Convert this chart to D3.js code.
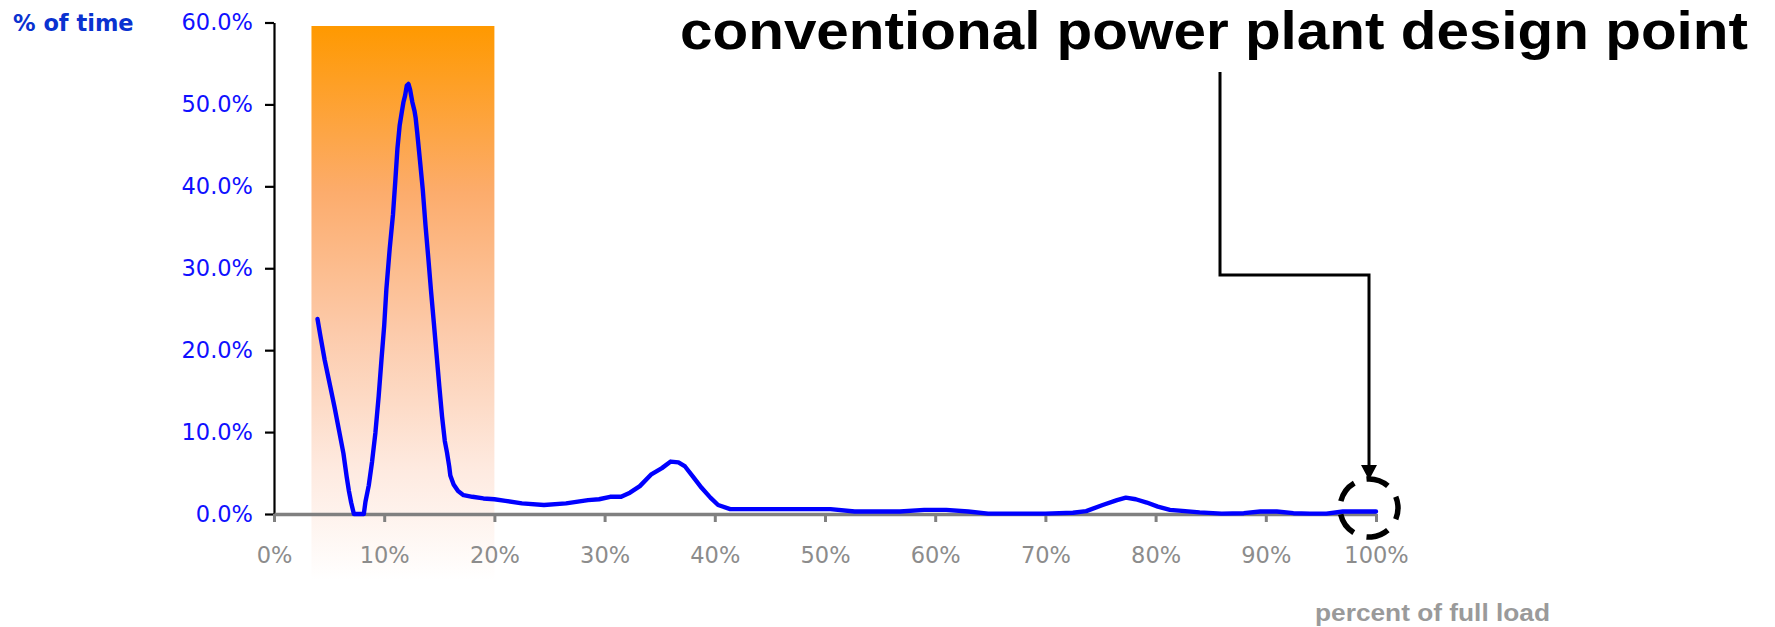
<!DOCTYPE html>
<html>
<head>
<meta charset="utf-8">
<script src="https://cdn.jsdelivr.net/npm/d3@7"></script>
<style>
  html, body { margin: 0; padding: 0; background: #fff; }
  svg { display: block; }
</style>
</head>
<body>
<svg id="chart" width="1775" height="627"></svg>
<script>
// Load level (% of full load) and share of operating time (%)
const loadPct = [
  3.95, 4.2, 4.6, 5.1, 5.5, 5.9, 6.3, 6.6, 6.8, 7.0,
  7.25, 7.7, 8.15, 8.3, 8.6, 8.9, 9.2, 9.5, 9.75, 10.0,
  10.2, 10.5, 10.8, 11.0, 11.2, 11.4, 11.6, 11.75, 11.9, 12.05,
  12.2, 12.35, 12.55, 12.75, 12.85, 13.0, 13.25, 13.5, 13.75, 14.0,
  14.25, 14.5, 14.75, 15.0, 15.25, 15.5, 15.7, 15.9, 16.0, 16.3,
  16.7, 17.2, 18.0, 19.0, 20.0, 21.0, 22.5, 24.5, 26.5, 28.5,
  29.5, 30.5, 31.5, 32.3, 33.2, 34.2, 35.2, 36.0, 36.7, 37.3,
  38.0, 38.8, 39.6, 40.3, 41.4, 43.0, 46.0, 50.5, 52.7, 56.8,
  59.0, 61.0, 63.0, 64.8, 70.0, 72.5, 73.7, 75.2, 76.5, 77.3,
  78.2, 79.2, 80.2, 81.3, 84.0, 86.0, 88.0, 89.5, 91.0, 92.5,
  94.0, 95.5, 97.0, 100
];
const timePct = [
  23.8, 21.8, 18.8, 15.6, 13.0, 10.2, 7.4, 4.5, 2.8, 1.4,
  0, 0, 0, 1.5, 3.5, 6.4, 9.9, 14.4, 18.8, 23.0,
  27.5, 32.4, 36.6, 40.5, 44.6, 47.4, 49.1, 50.3, 51.1, 52.3,
  52.5, 51.8, 50.3, 49.2, 48.4, 46.5, 43.1, 39.6, 35.2, 31.3,
  27.2, 23.4, 19.5, 15.6, 11.9, 8.9, 7.5, 5.8, 4.7, 3.6,
  2.8, 2.3, 2.1, 1.9, 1.8, 1.6, 1.3, 1.1, 1.3, 1.7,
  1.8, 2.1, 2.1, 2.6, 3.4, 4.8, 5.6, 6.4, 6.3, 5.8,
  4.6, 3.2, 2.0, 1.1, 0.6, 0.6, 0.6, 0.6, 0.3, 0.3,
  0.5, 0.5, 0.3, 0.05, 0.05, 0.15, 0.35, 1.1, 1.7, 2.0,
  1.8, 1.4, 0.9, 0.5, 0.2, 0.05, 0.1, 0.3, 0.3, 0.1,
  0.05, 0.05, 0.3, 0.3
];
const xTicks = [0, 10, 20, 30, 40, 50, 60, 70, 80, 90, 100];
const yTicks = [0, 10, 20, 30, 40, 50, 60];

// Highlighted low-load operating band
const bandFrom = 3.4, bandTo = 20;
// Design point of a conventional plant
const designLoad = 100, designTime = 0;

const svg = d3.select("#chart");
const x = d3.scaleLinear().domain([0, 100]).range([274, 1376]);
const y = d3.scaleLinear().domain([0, 60]).range([514, 22.5]);

// gradient for the low-load band
const defs = svg.append("defs");
const grad = defs.append("linearGradient")
  .attr("id", "bandGrad").attr("x1", 0).attr("y1", 0).attr("x2", 0).attr("y2", 1);
[[0, "#FF9900"], [0.3, "#FCAC6C"], [0.55, "#FCCAAA"], [0.8, "#FEEAE0"], [1, "#FFFFFF"]]
  .forEach(([o, c]) => grad.append("stop").attr("offset", o).attr("stop-color", c));

svg.append("rect")
  .attr("x", x(bandFrom)).attr("y", 26)
  .attr("width", x(bandTo) - x(bandFrom)).attr("height", 580 - 26)
  .attr("fill", "url(#bandGrad)");

const tickFont = "'DejaVu Sans', Verdana, sans-serif";

// y axis
const yAxis = svg.append("g")
  .attr("transform", `translate(${x(0)},0)`)
  .call(d3.axisLeft(y).tickValues(yTicks).tickSize(9).tickSizeOuter(0).tickPadding(12)
    .tickFormat(d => d3.format(".1f")(d) + "%"));
yAxis.select(".domain").attr("stroke", "#000").attr("stroke-width", 2.2);
yAxis.selectAll(".tick line").attr("stroke", "#000").attr("stroke-width", 2.2);
yAxis.selectAll(".tick text")
  .attr("fill", "#1010FF")
  .style("font-family", tickFont)
  .style("font-size", "22.5px");

// x axis
const xAxis = svg.append("g")
  .attr("transform", `translate(0,${y(0)})`)
  .call(d3.axisBottom(x).tickValues(xTicks).tickSize(8).tickSizeOuter(0).tickPadding(25)
    .tickFormat(d => d + "%"));
xAxis.select(".domain").attr("stroke", "#808080").attr("stroke-width", 3.5);
xAxis.selectAll(".tick line").attr("stroke", "#808080").attr("stroke-width", 3);
xAxis.selectAll(".tick text")
  .attr("fill", "#8C8C8C")
  .style("font-family", tickFont)
  .style("font-size", "22.5px");

// distribution curve
const pts = loadPct.map((v, i) => [v, timePct[i]]);
svg.append("path")
  .datum(pts)
  .attr("fill", "none")
  .attr("stroke", "#0000FF")
  .attr("stroke-width", 4.4)
  .attr("stroke-linejoin", "round")
  .attr("stroke-linecap", "round")
  .attr("d", d3.line().x(d => x(d[0])).y(d => y(d[1])));

// axis titles
svg.append("text")
  .attr("x", 13).attr("y", 31)
  .attr("fill", "#0A32D0")
  .style("font-family", tickFont)
  .style("font-weight", "bold").style("font-size", "22.5px")
  .text("% of time");

svg.append("text")
  .attr("x", 1315).attr("y", 621)
  .attr("fill", "#9A9A9A")
  .attr("textLength", 235).attr("lengthAdjust", "spacingAndGlyphs")
  .style("font-family", "'Liberation Sans', Arial, sans-serif")
  .style("font-weight", "bold").style("font-size", "23.5px")
  .text("percent of full load");

// annotation
svg.append("text")
  .attr("x", 680).attr("y", 48.5)
  .attr("fill", "#000")
  .attr("textLength", 1068).attr("lengthAdjust", "spacingAndGlyphs")
  .style("font-family", "'Liberation Sans', Arial, sans-serif")
  .style("font-weight", "bold").style("font-size", "53px")
  .text("conventional power plant design point");

const cx = x(designLoad) - 7, cy = y(designTime) - 6;
const r = 29;
svg.append("path")
  .attr("fill", "none").attr("stroke", "#000").attr("stroke-width", 3)
  .attr("d", `M1220,72 V275 H${cx} V${cy - r - 12}`);
svg.append("path")
  .attr("fill", "#000")
  .attr("d", `M${cx - 8},${cy - r - 14} L${cx + 8},${cy - r - 14} L${cx},${cy - r + 1} Z`);

svg.append("circle")
  .attr("cx", cx).attr("cy", cy).attr("r", r)
  .attr("fill", "none").attr("stroke", "#000").attr("stroke-width", 5.5)
  .attr("stroke-dasharray", "23 13.5")
  .attr("transform", `rotate(-95 ${cx} ${cy})`);
</script>
</body>
</html>
